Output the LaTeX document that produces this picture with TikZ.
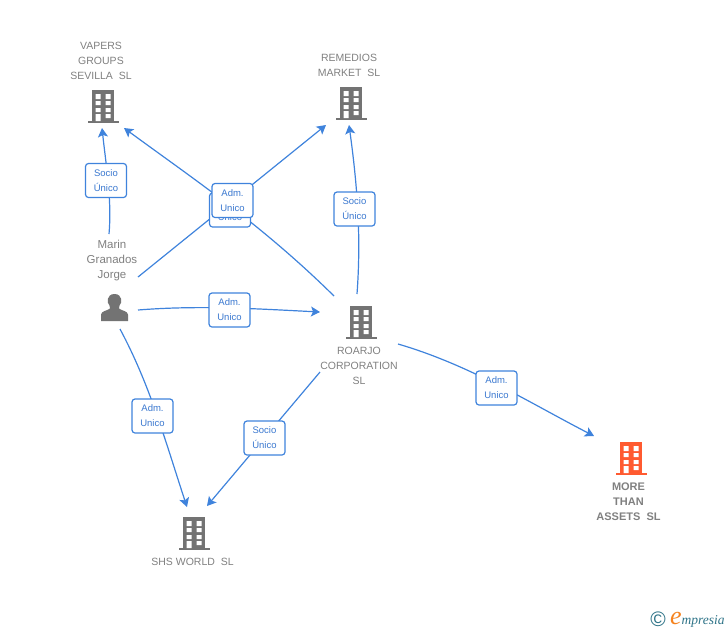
\documentclass[tikz,border=0pt]{standalone}
\usepackage{fontspec}
\setmainfont{Liberation Sans}
\newfontfamily\logofont{Liberation Serif}
\usetikzlibrary{arrows.meta}
\definecolor{lineblue}{HTML}{3F83DC}
\definecolor{textblue}{HTML}{3A78D0}
\definecolor{greytext}{HTML}{808080}
\definecolor{icongrey}{HTML}{737373}
\definecolor{iconorange}{HTML}{FF5A30}
\definecolor{logoteal}{HTML}{2F7488}
\definecolor{logoorange}{HTML}{F5831F}
\tikzset{
  conn/.style={draw=lineblue,line width=1.2pt,-{Stealth[length=9pt,width=10pt,inset=2pt]}},
  rolebox/.style={draw=lineblue,line width=1.2pt,fill=white,rounded corners=3pt,minimum width=41pt,minimum height=34pt,inner sep=0pt,align=center,text=textblue,font=\fontsize{9.5}{15}\selectfont},
  firmname/.style={align=center,text=greytext,inner sep=0pt,font=\fontsize{10.5}{15}\selectfont},
  firmbold/.style={align=center,text=greytext,inner sep=0pt,font=\fontsize{11}{15}\selectfont\bfseries},
  personname/.style={align=center,text=greytext,inner sep=0pt,font=\fontsize{11.5}{15}\selectfont},
  pics/building/.style={code={
    \fill[#1] (-11,-16) rectangle (11,15.5);
    \fill[#1] (-15.5,15) rectangle (16,17);
    \fill[white] (-7.3,-12) rectangle (-2.3,-7) (2.7,-12) rectangle (7.7,-7)
      (-7.3,-5) rectangle (-2.3,-1) (2.7,-5) rectangle (7.7,-1)
      (-7.3,2) rectangle (-2.3,6) (2.7,2) rectangle (7.7,6)
      (-7.3,8) rectangle (-2.3,15) (2.7,8) rectangle (7.7,12);
  }}
}
\begin{document}
\begin{tikzpicture}[x=1pt,y=-1pt]
\useasboundingbox (0,0) rectangle (728,630);
% end points of the connectors
\coordinate (vapersIn) at (102,128);
\coordinate (vapersIn2) at (124,128);
\coordinate (remIn) at (326,125);
\coordinate (remIn2) at (349,125);
\coordinate (marinA) at (109,234);
\coordinate (marinB) at (138,277);
\coordinate (marinC) at (138,310);
\coordinate (marinD) at (120,329);
\coordinate (roarjoA) at (334,296);
\coordinate (roarjoB) at (357,294);
\coordinate (roarjoC) at (320,372);
\coordinate (roarjoD) at (398,344);
\coordinate (roarjoIn) at (320,312);
\coordinate (shsIn) at (187,507);
\coordinate (shsIn2) at (207,506);
\coordinate (moreIn) at (594,436);
% connectors
\draw[conn] (marinA) .. controls (112,200) and (106,165) .. (vapersIn);
\draw[conn] (marinB) -- (remIn);
\draw[conn] (roarjoA) .. controls (262,225) and (195,180) .. (vapersIn2);
\draw[conn] (marinC) .. controls (200,305) and (260,309) .. (roarjoIn);
\draw[conn] (marinD) .. controls (150,385) and (165,440) .. (shsIn);
\draw[conn] (roarjoB) .. controls (361,240) and (358,190) .. (remIn2);
\draw[conn] (roarjoC) -- (shsIn2);
\draw[conn] (roarjoD) .. controls (470,365) and (530,403) .. (moreIn);
% icons
\pic at (103,106) {building=icongrey};
\pic at (351,103) {building=icongrey};
\pic at (361,322) {building=icongrey};
\pic at (194,533) {building=icongrey};
\pic at (631,458) {building=iconorange};
\fill[icongrey] (101,321) -- (101,314.5) .. controls (101,311) and (108,310.5) .. (110,308.5)
  .. controls (110.5,307.5) and (110,306.5) .. (109.5,305.5)
  .. controls (106.5,303) and (106.5,294) .. (114.5,294)
  .. controls (122.5,294) and (122.5,303) .. (119.5,305.5)
  .. controls (119,306.5) and (118.5,307.5) .. (119,308.5)
  .. controls (121,310.5) and (128,311) .. (128,314.5) -- (128,321) -- cycle;
% names
\node[firmname] (vapers) at (101,60.5) {VAPERS\\GROUPS\\SEVILLA\ \ SL};
\node[firmname] (remedios) at (349,65) {REMEDIOS\\MARKET\ \ SL};
\node[firmname] (roarjo) at (359,366) {ROARJO\\CORPORATION\\SL};
\node[firmname] (shs) at (192.5,561.5) {SHS WORLD\ \ SL};
\node[firmbold] (more) at (628.5,502) {MORE\\THAN\\ASSETS\ \ SL};
\node[personname] (marin) at (112,261) {Marin\\Granados\\Jorge};
% role labels
\node[rolebox] (l1) at (106,180.5) {Socio\\Único};
\node[rolebox] (l2) at (230,210) {Adm.\\Unico};
\node[rolebox] (l3) at (232.5,200.5) {Adm.\\[0pt]Unico};
\node[rolebox] (l4) at (229.5,310) {\raisebox{-1pt}{Adm.}\\\raisebox{-1pt}{Unico}};
\node[rolebox] (l5) at (354.5,209) {Socio\\Único};
\node[rolebox] (l6) at (152.5,416) {Adm.\\Unico};
\node[rolebox] (l7) at (264.5,438) {Socio\\Único};
\node[rolebox] (l8) at (496.5,388) {Adm.\\Unico};
% logo
\node[inner sep=0pt,text=logoteal,font=\fontsize{21}{21}\selectfont] (copy) at (658,619) {\textcopyright};
\node[inner sep=0pt,anchor=base west,text=logoteal,font=\logofont\itshape\fontsize{13.5}{13.5}\selectfont] (logo) at (670,624) {\textcolor{logoorange}{\fontsize{26}{26}\selectfont e}mpresia};
\end{tikzpicture}
\end{document}
